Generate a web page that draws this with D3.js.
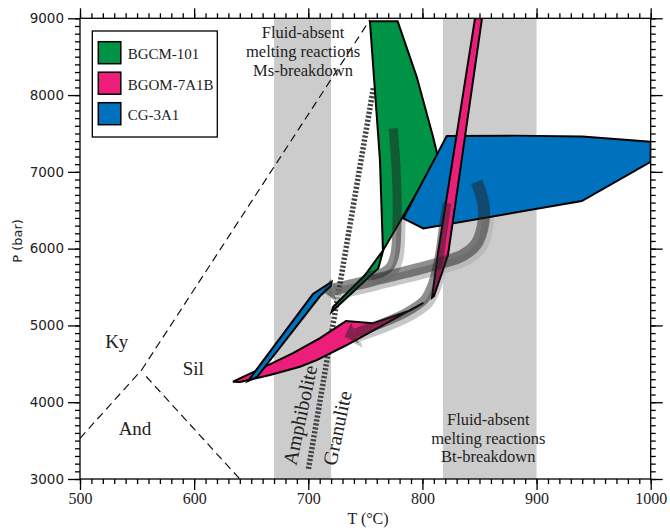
<!DOCTYPE html>
<html>
<head>
<meta charset="utf-8">
<script src="https://cdn.jsdelivr.net/npm/d3@7"></script>
<style>
  body { margin: 0; background: #fff; }
  text { font-family: "Liberation Serif", serif; fill: #222; }
</style>
</head>
<body>
<svg width="670" height="530"></svg>
<script>
// sample legend
var samples = ["BGCM-101", "BGOM-7A1B", "CG-3A1"];
var sampleColors = ["#009245", "#ec1e79", "#0071bc"];

// axis ticks
var xTicks = [500, 600, 700, 800, 900, 1000];
var yTicks = [3000, 4000, 5000, 6000, 7000, 8000, 9000];

// fluid-absent melting bands (T range, °C)
var bands = [[670, 720], [818, 900]];

// Al2SiO5 reaction lines [T, P]
var kySil = [[554, 4420], [754, 8980]];
var kyAnd = [[500, 3530], [554, 4420]];
var silAnd = [[558, 4335], [640, 3000]];
// amphibolite / granulite boundary
var amphGran = [[757, 8090], [700, 3120]];

// P-T fields [T, P]
var greenField = [[754, 8960], [778.3, 8960], [795, 8238], [809.3, 7457], [813.6, 7196],
  [765.7, 5982], [764.3, 5903], [761.3, 5743], [720.5, 5178], [721.7, 5239],
  [749.7, 5656], [765.4, 5975], [762.8, 7153]];
var pinkField = [[634, 4267], [657.7, 4432], [686.6, 4640], [710.3, 4836], [733, 5057],
  [756.7, 5027], [789.1, 5194], [800.8, 5295], [733.7, 4745], [707.4, 4549],
  [692.7, 4462], [666.5, 4354], [640.2, 4263]];
var pinkStrip = [[846.1, 9000], [852.2, 9000], [822.4, 5916], [810.1, 5383], [808.4, 5363], [813.6, 5943]];
var blueSliver = [[647.2, 4276], [704.1, 5409], [720.5, 5569], [719.9, 5513], [710.3, 5383], [655.1, 4328]];
var blueField = [[821.3, 7466], [880, 7472], [940, 7462], [1000, 7392], [1000, 7131], [939.6, 6620],
  [800.8, 6264], [783.2, 6394]];

// P-T paths [T, P]
var pathBlue = [[847.5, 6871], [853.3, 6590], [853.3, 6329], [847.5, 6069], [835.8, 5917],
  [812.5, 5799], [757, 5591], [722, 5470]];
var pathGreen = [[774.5, 7566], [777.4, 6893], [777.7, 6307], [776, 5939], [771.6, 5764],
  [762.8, 5676], [752, 5645]];
var pathPink = [[821.5, 6594], [818, 6242], [814.5, 5877], [808.4, 5526], [801.4, 5331],
  [784.7, 5161], [762.8, 5018], [740.9, 4901]];

var svg = d3.select("svg");
var W = 670, H = 530;
var margin = {top: 18.3, right: 19.3, bottom: 51, left: 80};

var x = d3.scaleLinear().domain([500, 1000]).range([margin.left, W - margin.right]);
var y = d3.scaleLinear().domain([3000, 9000]).range([H - margin.bottom, margin.top]);

svg.append("clipPath").attr("id", "plot")
  .append("rect")
  .attr("x", x(500)).attr("y", y(9000))
  .attr("width", x(1000) - x(500)).attr("height", y(3000) - y(9000));

var plot = svg.append("g").attr("clip-path", "url(#plot)");

// grey bands
plot.selectAll("rect.band").data(bands).enter().append("rect")
  .attr("class", "band")
  .attr("x", function(d){ return x(d[0]); })
  .attr("y", y(9000))
  .attr("width", function(d){ return x(d[1]) - x(d[0]); })
  .attr("height", y(3000) - y(9000))
  .attr("fill", "#cccccc");

var line = d3.line().x(function(d){ return x(d[0]); }).y(function(d){ return y(d[1]); });

// dashed reaction lines
[kySil, kyAnd, silAnd].forEach(function(l){
  plot.append("path").attr("d", line(l))
    .attr("fill", "none").attr("stroke", "#111").attr("stroke-width", 1.2)
    .attr("stroke-dasharray", "8,5");
});

// hatched amphibolite / granulite boundary
plot.append("path").attr("d", line(amphGran))
  .attr("fill", "none").attr("stroke", "#444").attr("stroke-width", 5.5)
  .attr("stroke-dasharray", "2.2,1.8");

// P-T paths: shadow + dark overlay
var smooth = d3.line().curve(d3.curveCatmullRom)
  .x(function(d){ return x(d[0]); }).y(function(d){ return y(d[1]); });

function arrowHead(pts, len, half) {
  var a = pts[pts.length - 2], b = pts[pts.length - 1];
  var x1 = x(a[0]), y1 = y(a[1]), x2 = x(b[0]), y2 = y(b[1]);
  var dx = x2 - x1, dy = y2 - y1, n = Math.sqrt(dx*dx + dy*dy);
  dx /= n; dy /= n;
  var tx = x2 + dx*len, ty = y2 + dy*len;
  return [[tx, ty], [x2 - dy*half, y2 + dx*half], [x2 + dy*half, y2 - dx*half]];
}

function drawPath(layer, pts, width, arrow, color, op, dxs, dys) {
  var g = layer.append("g").attr("opacity", op)
    .attr("transform", "translate(" + dxs + "," + dys + ")");
  g.append("path").attr("d", smooth(pts))
    .attr("fill", "none").attr("stroke", color).attr("stroke-width", width)
    .attr("stroke-linecap", "butt");
  if (arrow) {
    g.append("polygon").attr("points", arrowHead(pts, 11, 11).join(" "))
      .attr("fill", color);
  }
}

var shadows = plot.append("g");
drawPath(shadows, pathBlue, 12, true, "#b5b5b5", 0.75, 4, 4);
drawPath(shadows, pathGreen, 9, false, "#b5b5b5", 0.75, 4, 4);
drawPath(shadows, pathPink, 9, true, "#b5b5b5", 0.75, 4, 4);

// fields
function field(pts, color) {
  plot.append("path").attr("d", line(pts) + "Z")
    .attr("fill", color).attr("stroke", "#000").attr("stroke-width", 2)
    .attr("stroke-linejoin", "miter");
}
field(greenField, sampleColors[0]);
field(pinkField, sampleColors[1]);
field(blueSliver, sampleColors[2]);
field(blueField, sampleColors[2]);
field(pinkStrip, sampleColors[1]);

var overlays = plot.append("g");
drawPath(overlays, pathBlue, 12, true, "#222", 0.5, 0, 0);
drawPath(overlays, pathGreen, 9, false, "#222", 0.5, 0, 0);
drawPath(overlays, pathPink, 9, true, "#222", 0.5, 0, 0);

// labels
function label(t, p, txt, size) {
  return svg.append("text").attr("x", x(t)).attr("y", y(p))
    .attr("text-anchor", "middle").style("font-size", size + "px").text(txt);
}
label(532.2, 4706, "Ky", 19);
label(599.3, 4354, "Sil", 19);
label(548.2, 3573, "And", 19);

var msLines = ["Fluid-absent", "melting reactions", "Ms-breakdown"];
var msP = [8742, 8495, 8247];
msLines.forEach(function(s, i){ label(695.4, msP[i], s, 16.5); });
var btLines = ["Fluid-absent", "melting reactions", "Bt-breakdown"];
var btP = [3703, 3462, 3221];
btLines.forEach(function(s, i){ label(857.7, btP[i], s, 16.5); });

function rotLabel(t, p, txt) {
  svg.append("text")
    .attr("transform", "translate(" + x(t) + "," + y(p) + ") rotate(-78)")
    .attr("text-anchor", "middle").attr("dy", "0.35em")
    .style("font-size", "20px").text(txt);
}
rotLabel(692.7, 3833, "Amphibolite");
rotLabel(725.2, 3664, "Granulite");

// axes
var minorX = d3.range(500, 1001, 10);
var minorY = d3.range(3000, 9001, 100);

function styleAxis(g) {
  g.select(".domain").remove();
  g.selectAll(".tick line").attr("stroke", "#000").attr("stroke-width", 1.3);
}

svg.append("g").attr("transform", "translate(0," + y(3000) + ")")
  .call(d3.axisBottom(x).tickValues(minorX).tickSize(5).tickFormat("")).call(styleAxis);
svg.append("g").attr("transform", "translate(0," + y(3000) + ")")
  .call(d3.axisBottom(x).tickValues(xTicks).tickSize(11).tickPadding(3).tickFormat(d3.format("d")))
  .call(styleAxis)
  .call(function(g){ g.selectAll("text").style("font-size", "16px").style("font-family", "'Liberation Serif', serif").attr("fill", "#222"); });

svg.append("g").attr("transform", "translate(0," + y(9000) + ")")
  .call(d3.axisTop(x).tickValues(minorX).tickSize(5).tickFormat("")).call(styleAxis);
svg.append("g").attr("transform", "translate(0," + y(9000) + ")")
  .call(d3.axisTop(x).tickValues(xTicks).tickSize(10).tickFormat("")).call(styleAxis);

svg.append("g").attr("transform", "translate(" + x(500) + ",0)")
  .call(d3.axisLeft(y).tickValues(minorY).tickSize(5).tickFormat("")).call(styleAxis);
svg.append("g").attr("transform", "translate(" + x(500) + ",0)")
  .call(d3.axisLeft(y).tickValues(yTicks).tickSize(12).tickPadding(4).tickFormat(d3.format("d")))
  .call(styleAxis)
  .call(function(g){ g.selectAll("text").style("font-size", "13.5px").style("font-family", "'DejaVu Sans', sans-serif").attr("fill", "#333"); });

svg.append("g").attr("transform", "translate(" + x(1000) + ",0)")
  .call(d3.axisRight(y).tickValues(minorY).tickSize(5).tickFormat("")).call(styleAxis);
svg.append("g").attr("transform", "translate(" + x(1000) + ",0)")
  .call(d3.axisRight(y).tickValues(yTicks).tickSize(12).tickFormat("")).call(styleAxis);

// frame
svg.append("rect")
  .attr("x", x(500)).attr("y", y(9000))
  .attr("width", x(1000) - x(500)).attr("height", y(3000) - y(9000))
  .attr("fill", "none").attr("stroke", "#000").attr("stroke-width", 1.3);

// axis titles
svg.append("text").attr("x", 368).attr("y", 524).attr("text-anchor", "middle")
  .style("font-size", "16px").text("T (°C)");
svg.append("text").attr("transform", "translate(17,241) rotate(-90)")
  .attr("text-anchor", "middle").attr("dy", "0.35em")
  .style("font-family", "'DejaVu Sans', sans-serif").style("font-size", "13px")
  .attr("fill", "#333").text("P (bar)");

// legend
var legend = svg.append("g").attr("transform", "translate(92.3,31)");
legend.append("rect").attr("width", 125).attr("height", 106)
  .attr("fill", "#fff").attr("stroke", "#000").attr("stroke-width", 1.3);
var items = legend.selectAll("g.item").data(samples).enter().append("g")
  .attr("class", "item")
  .attr("transform", function(d, i){ return "translate(6," + (10.7 + i * 30.5) + ")"; });
items.append("rect").attr("width", 22.5).attr("height", 22)
  .attr("fill", function(d, i){ return sampleColors[i]; })
  .attr("stroke", "#000").attr("stroke-width", 1.5);
items.append("text").attr("x", 29.4).attr("y", 17.5)
  .style("font-size", "15px").text(function(d){ return d; });
</script>
</body>
</html>
